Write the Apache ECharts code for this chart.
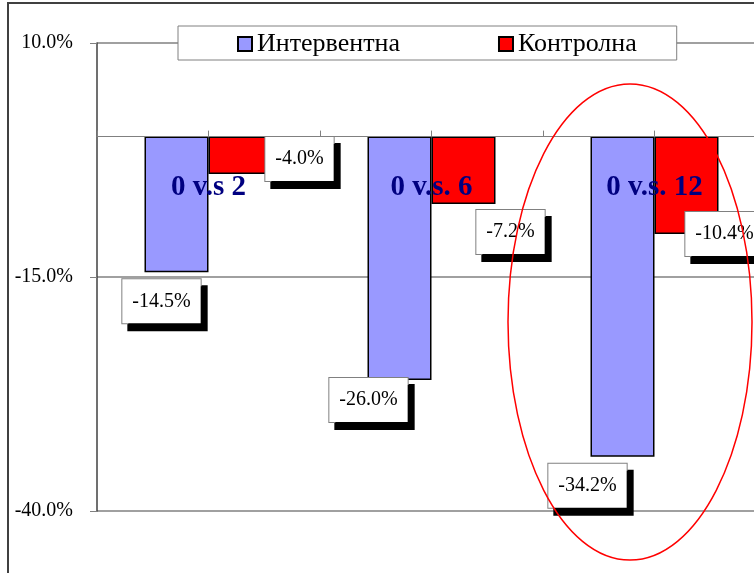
<!DOCTYPE html>
<html>
<head>
<meta charset="utf-8">
<script src="https://cdn.jsdelivr.net/npm/echarts@6/dist/echarts.min.js"></script>
<style>
  html, body { margin: 0; padding: 0; background: #fff; overflow: hidden; }
  #chart { width: 800px; height: 573px; }
</style>
</head>
<body>
<div id="chart"></div>
<script>
// данни
var categories = ['0 v.s 2', '0 v.s. 6', '0 v.s. 12'];
var intervention = [-14.5, -26.0, -34.2];
var control = [-4.0, -7.2, -10.4];
var seriesNames = ['Интервентна', 'Контролна'];
var yMin = -40, yMax = 10, yStep = 25;
// отместване на етикетите спрямо дъното на стълба (ръчно, като в оригинала)
var interventionLabelOffset = [[-15, 7], [-31, -2], [-35, 7]];
var controlLabelOffset = [[59, -37], [47, 6], [38, -22]];

var serif = '"Liberation Serif", "Times New Roman", serif';
var gridTop = 43, gridHeight = 468;
// нулевата линия: отместване на горната ос надолу до стойност 0
var zeroOffset = -(yMax / (yMax - yMin)) * gridHeight;

function withOffsets(values, offsets) {
  return values.map(function (v, i) {
    return { value: v, label: { offset: offsets[i] } };
  });
}

var valueLabel = {
  show: true,
  position: 'bottom',
  distance: 0,
  formatter: function (p) { return p.value.toFixed(1) + '%'; },
  fontFamily: serif,
  fontSize: 20,
  color: '#000',
  backgroundColor: '#fff',
  borderColor: '#808080',
  borderWidth: 1,
  padding: [12, 10],
  shadowColor: '#000',
  shadowBlur: 0,
  shadowOffsetX: 6,
  shadowOffsetY: 7
};

var myChart = echarts.init(document.getElementById('chart'));
var option = {
  animation: false,
  backgroundColor: '#fff',
  legend: {
    data: seriesNames,
    left: 178,
    top: 26,
    padding: [5, 40, 3, 59],
    itemGap: 98,
    itemWidth: 14,
    itemHeight: 14,
    icon: 'rect',
    backgroundColor: '#fff',
    borderColor: '#808080',
    borderWidth: 1,
    textStyle: { fontFamily: serif, fontSize: 26, color: '#000' }
  },
  grid: { left: 97, top: gridTop, width: 669, height: gridHeight },
  xAxis: [{
    type: 'category',
    data: categories,
    position: 'top',
    offset: zeroOffset,
    z: 10,
    axisLine: { onZero: false, lineStyle: { color: '#808080', width: 1 } },
    axisTick: { show: false },
    axisLabel: {
      inside: true,
      margin: 36,
      fontFamily: serif,
      fontSize: 29,
      fontWeight: 'bold',
      color: '#000080'
    }
  }, {
    // само за чертичките по нулевата линия
    type: 'category',
    position: 'top',
    offset: zeroOffset,
    data: ['', '', '', '', '', ''],
    axisLine: { onZero: false, lineStyle: { color: '#808080', width: 1 } },
    axisTick: { show: true, length: 6, lineStyle: { color: '#808080' } },
    axisLabel: { show: false }
  }],
  yAxis: {
    type: 'value',
    min: yMin,
    max: yMax,
    interval: yStep,
    axisLine: { show: true, lineStyle: { color: '#404040', width: 1.5 } },
    axisTick: { show: true, length: 7, lineStyle: { color: '#808080' } },
    axisLabel: {
      margin: 24,
      padding: [3, 0, 0, 0],
      fontFamily: serif,
      fontSize: 20,
      color: '#000',
      formatter: function (v) { return v.toFixed(1) + '%'; }
    },
    splitLine: { lineStyle: { color: '#808080', width: 1.5 } }
  },
  series: [{
    name: seriesNames[0],
    type: 'bar',
    barWidth: 64,
    barGap: '0%',
    itemStyle: { color: '#9999FF', borderColor: '#000', borderWidth: 1.5 },
    label: valueLabel,
    data: withOffsets(intervention, interventionLabelOffset)
  }, {
    name: seriesNames[1],
    type: 'bar',
    barWidth: 64,
    barGap: '0%',
    itemStyle: { color: '#FF0000', borderColor: '#000', borderWidth: 1.5 },
    label: valueLabel,
    data: withOffsets(control, controlLabelOffset)
  }],
  graphic: [{
    type: 'rect',
    z: -1,
    silent: true,
    shape: { x: 8, y: 3, width: 850, height: 620 },
    style: { fill: 'none', stroke: '#404040', lineWidth: 2 }
  }, {
    type: 'ellipse',
    z: 100,
    silent: true,
    shape: { cx: 630, cy: 322, rx: 122, ry: 238 },
    style: { fill: 'none', stroke: '#FF0000', lineWidth: 1.5 }
  }]
};
myChart.setOption(option);
window.addEventListener('resize', function () {
  myChart.resize();
});
</script>
</body>
</html>
